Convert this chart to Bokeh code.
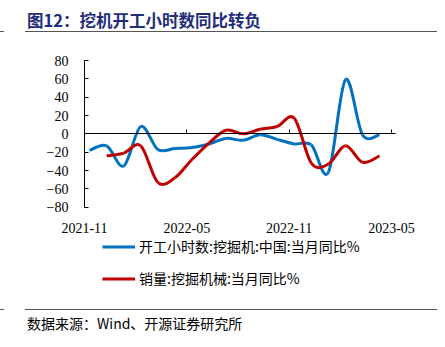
from bokeh.plotting import figure
from bokeh.models import (FixedTicker, LinearAxis, Legend, LegendItem,
                          ColumnDataSource, Div)
from bokeh.layouts import column
from bokeh.embed import file_html
from bokeh.resources import INLINE

# ---- data ----
blue_months = ["2021-11", "2021-12", "2022-01", "2022-02", "2022-03", "2022-04",
               "2022-05", "2022-06", "2022-07", "2022-08", "2022-09", "2022-10",
               "2022-11", "2022-12", "2023-01", "2023-02", "2023-03", "2023-04"]
blue_values = [-18, -13, -35, 8, -17, -16, -15, -11, -5, -7, -1, -6,
               -11, -12, -42, 59, -1, -1]
red_months = ["2021-12", "2022-01", "2022-02", "2022-03", "2022-04", "2022-05",
              "2022-06", "2022-07", "2022-08", "2022-09", "2022-10", "2022-11",
              "2022-12", "2023-01", "2023-02", "2023-03", "2023-04"]
red_values = [-24, -21, -13, -53, -48, -28, -10, 4, 0, 5, 8, 17,
              -32, -33, -13, -31, -24]
tick_labels = ["2021-11", "2022-05", "2022-11", "2023-05"]
y_ticks = [-80, -60, -40, -20, 0, 20, 40, 60, 80]

blue_name = "开工小时数:挖掘机:中国:当月同比%"
red_name = "销量:挖掘机械:当月同比%"
title_text = "图12：挖机开工小时数同比转负"
source_text = "数据来源：Wind、开源证券研究所"

BLUE = "#0070C0"
RED = "#C00000"
NAVY = "#1F2D7B"
RULE = "#555555"
CJK = "Noto Sans CJK SC"
SERIF = "Liberation Serif"

base_y, base_m = 2021, 11
def midx(s):
    y, m = s.split("-")
    return (int(y) - base_y) * 12 + int(m) - base_m

POINT_OFFSET = 0.3  # where the month's point sits after the month tick

def smooth_source(months, values):
    xs = [midx(m) + POINT_OFFSET for m in months]
    ys = list(values)
    n = len(xs)
    d = dict(x0=[], y0=[], x1=[], y1=[], cx0=[], cy0=[], cx1=[], cy1=[])
    for i in range(n - 1):
        p0 = max(i - 1, 0)
        p3 = min(i + 2, n - 1)
        d["x0"].append(xs[i]); d["y0"].append(ys[i])
        d["x1"].append(xs[i + 1]); d["y1"].append(ys[i + 1])
        d["cx0"].append(xs[i] + (xs[i + 1] - xs[p0]) / 6)
        d["cy0"].append(ys[i] + (ys[i + 1] - ys[p0]) / 6)
        d["cx1"].append(xs[i + 1] - (xs[p3] - xs[i]) / 6)
        d["cy1"].append(ys[i + 1] - (ys[p3] - ys[i]) / 6)
    return ColumnDataSource(d)

W = 445
TITLE_H, FIG_H, SRC_H = 45, 255, 47
FRAME_TOP = 3                          # frame starts near the top of the figure
TOP_VALUE_PX = 15                      # where the value 80 sits in the figure
PX_PER_UNIT = 146.7 / 160.0           # vertical scale
PX_PER_MONTH = 307.0 / 18.0           # horizontal scale
AXIS_PX = 84                          # where the value axis sits
y_hi = max(y_ticks) + (TOP_VALUE_PX - FRAME_TOP) / PX_PER_UNIT
y_lo = max(y_ticks) - (FIG_H - TOP_VALUE_PX) / PX_PER_UNIT
x_lo = -AXIS_PX / PX_PER_MONTH
x_hi = x_lo + W / PX_PER_MONTH
tick_pos = [midx(t) for t in tick_labels]

p = figure(width=W, height=FIG_H, output_backend="svg", toolbar_location=None,
           x_range=(x_lo, x_hi), y_range=(y_lo, y_hi),
           min_border_left=0, min_border_right=0, min_border_top=FRAME_TOP,
           min_border_bottom=0)
p.outline_line_color = None
p.grid.grid_line_color = None
p.background_fill_color = "white"
p.border_fill_color = "white"

# y axis placed at the first month tick
p.yaxis.fixed_location = tick_pos[0]
p.yaxis.ticker = FixedTicker(ticks=y_ticks)
p.yaxis.bounds = (min(y_ticks), max(y_ticks))
p.yaxis.axis_line_color = "black"
p.yaxis.major_tick_in = 4
p.yaxis.major_tick_out = 0
p.yaxis.minor_tick_line_color = None
p.yaxis.major_label_standoff = 16
p.yaxis.major_label_text_font = SERIF
p.yaxis.major_label_text_font_size = "14px"
p.yaxis.major_label_text_color = "black"

# x axis line at zero with inward ticks (no labels)
p.xaxis.fixed_location = 0
p.xaxis.ticker = FixedTicker(ticks=tick_pos)
p.xaxis.bounds = (tick_pos[0], tick_pos[-1] + 0.25)
p.xaxis.axis_line_color = "black"
p.xaxis.major_tick_in = 4
p.xaxis.major_tick_out = 0
p.xaxis.minor_tick_line_color = None
p.xaxis.major_label_text_color = None

# x labels at the bottom of the value scale
lab_axis = LinearAxis(fixed_location=min(y_ticks), ticker=FixedTicker(ticks=tick_pos),
                      major_label_overrides={tp: t for tp, t in zip(tick_pos, tick_labels)},
                      axis_line_color=None, major_tick_line_color=None,
                      minor_tick_line_color=None, major_label_standoff=10,
                      major_label_text_font=SERIF, major_label_text_font_size="14px",
                      major_label_text_color="black")
p.add_layout(lab_axis, "below")

bsrc = smooth_source(blue_months, blue_values)
rsrc = smooth_source(red_months, red_values)
rb = p.bezier(x0="x0", y0="y0", x1="x1", y1="y1", cx0="cx0", cy0="cy0",
              cx1="cx1", cy1="cy1", source=bsrc, line_color=BLUE, line_width=3)
rr = p.bezier(x0="x0", y0="y0", x1="x1", y1="y1", cx0="cx0", cy0="cy0",
              cx1="cx1", cy1="cy1", source=rsrc, line_color=RED, line_width=3)

legend = Legend(items=[LegendItem(label=blue_name, renderers=[rb]),
                       LegendItem(label=red_name, renderers=[rr])],
                location=(102, 12), orientation="vertical",
                glyph_width=33, glyph_height=15, label_height=15,
                label_standoff=4, spacing=12, padding=0, margin=0,
                border_line_color=None, background_fill_alpha=0,
                label_text_font=CJK, label_text_font_size="14px",
                label_text_color="black")
p.add_layout(legend)

title_html = (
    f'<div style="position:relative;width:{W}px;height:{TITLE_H}px;">'
    f'<div style="position:absolute;left:27px;top:8px;font-family:\'{CJK}\';'
    f'font-size:16.5px;font-weight:bold;color:{NAVY};line-height:24px;white-space:nowrap;">{title_text}</div>'
    f'<div style="position:absolute;left:0px;top:31px;width:4px;border-top:1.5px solid {RULE};"></div>'
    f'<div style="position:absolute;left:25px;top:31px;width:412px;border-top:1.5px solid {RULE};"></div>'
    '</div>')
source_html = (
    f'<div style="position:relative;width:{W}px;height:{SRC_H}px;">'
    f'<div style="position:absolute;left:0px;top:9px;width:4px;border-top:1.5px solid {RULE};"></div>'
    f'<div style="position:absolute;left:25px;top:9px;width:412px;border-top:1.5px solid {RULE};"></div>'
    f'<div style="position:absolute;left:27px;top:14px;font-family:\'{CJK}\';'
    f'font-size:14px;color:black;line-height:18px;white-space:nowrap;">{source_text}</div>'
    '</div>')

title_div = Div(text=title_html, width=W, height=TITLE_H, margin=(0, 0, 0, 0))
source_div = Div(text=source_html, width=W, height=SRC_H, margin=(0, 0, 0, 0))

layout = column(title_div, p, source_div, spacing=0, margin=(0, 0, 0, 0))
open("out.html", "w").write(file_html(layout, INLINE))
